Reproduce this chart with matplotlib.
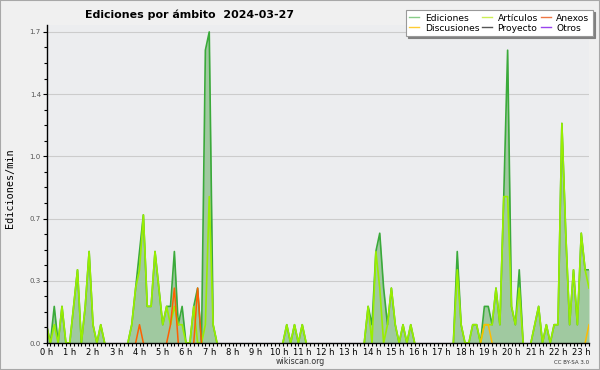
import numpy as np
import matplotlib
matplotlib.use("Agg")
import matplotlib.pyplot as plt
from matplotlib.lines import Line2D
from matplotlib.patches import Rectangle

# edits per minute, one value every 10 minutes (6 per hour), 00:00 -> 23:20
ediciones = [
    0.1, 0, 0.2, 0, 0.2, 0,        # 0 h
    0, 0.2, 0.4, 0, 0.2, 0.5,      # 1 h
    0.1, 0, 0.1, 0, 0, 0,          # 2 h
    0, 0, 0, 0, 0.1, 0.3,          # 3 h
    0.5, 0.7, 0.2, 0.2, 0.5, 0.3,  # 4 h
    0.1, 0.2, 0.2, 0.5, 0.1, 0.2,  # 5 h
    0, 0, 0.2, 0.3, 0, 1.6,        # 6 h
    1.7, 0.1, 0, 0, 0, 0,          # 7 h
    0, 0, 0, 0, 0, 0,              # 8 h
    0, 0, 0, 0, 0, 0,              # 9 h
    0, 0, 0.1, 0, 0.1, 0,          # 10 h
    0.1, 0, 0, 0, 0, 0,            # 11 h
    0, 0, 0, 0, 0, 0,              # 12 h
    0, 0, 0, 0, 0, 0.2,            # 13 h
    0.1, 0.5, 0.6, 0.3, 0.1, 0.3,  # 14 h
    0.1, 0, 0.1, 0, 0.1, 0,        # 15 h
    0, 0, 0, 0, 0, 0,              # 16 h
    0, 0, 0, 0, 0.5, 0.1,          # 17 h
    0, 0, 0.1, 0.1, 0, 0.2,        # 18 h
    0.2, 0.1, 0.3, 0.1, 0.8, 1.6,  # 19 h
    0.2, 0.1, 0.4, 0, 0, 0,        # 20 h
    0.1, 0.2, 0, 0.1, 0, 0.1,      # 21 h
    0.1, 1.2, 0.6, 0.1, 0.4, 0.1,  # 22 h
    0.6, 0.4, 0.4,                 # 23 h
]

articulos = [
    0.1, 0, 0.1, 0, 0.2, 0,
    0, 0.2, 0.4, 0, 0.2, 0.5,
    0.1, 0, 0.1, 0, 0, 0,
    0, 0, 0, 0, 0.1, 0.3,
    0.4, 0.7, 0.2, 0.2, 0.5, 0.3,
    0.1, 0.2, 0.1, 0.2, 0.1, 0.1,
    0, 0, 0.2, 0, 0, 0.1,
    0.8, 0.1, 0, 0, 0, 0,
    0, 0, 0, 0, 0, 0,
    0, 0, 0, 0, 0, 0,
    0, 0, 0.1, 0, 0.1, 0,
    0.1, 0, 0, 0, 0, 0,
    0, 0, 0, 0, 0, 0,
    0, 0, 0, 0, 0, 0.2,
    0, 0.5, 0.3, 0, 0.1, 0.3,
    0.1, 0, 0.1, 0, 0.1, 0,
    0, 0, 0, 0, 0, 0,
    0, 0, 0, 0, 0.4, 0.1,
    0, 0, 0.1, 0.1, 0, 0.1,
    0.1, 0.1, 0.3, 0.1, 0.8, 0.8,
    0.2, 0.1, 0.3, 0, 0, 0,
    0.1, 0.2, 0, 0.1, 0, 0.1,
    0.1, 1.2, 0.6, 0.1, 0.4, 0.1,
    0.6, 0.4, 0.3,
]

anexos = [
    0, 0, 0, 0, 0, 0,
    0, 0, 0, 0, 0, 0,
    0, 0, 0, 0, 0, 0,
    0, 0, 0, 0, 0, 0,
    0.1, 0, 0, 0, 0, 0,
    0, 0, 0.1, 0.3, 0, 0,
    0, 0, 0, 0.3, 0, 0,
    0, 0, 0, 0, 0, 0,
    0, 0, 0, 0, 0, 0,
    0, 0, 0, 0, 0, 0,
    0, 0, 0, 0, 0, 0,
    0, 0, 0, 0, 0, 0,
    0, 0, 0, 0, 0, 0,
    0, 0, 0, 0, 0, 0,
    0, 0, 0, 0, 0, 0,
    0, 0, 0, 0, 0, 0,
    0, 0, 0, 0, 0, 0,
    0, 0, 0, 0, 0, 0,
    0, 0, 0, 0, 0, 0,
    0, 0, 0, 0, 0, 0,
    0, 0, 0, 0, 0, 0,
    0, 0, 0, 0, 0, 0,
    0, 0, 0, 0, 0, 0,
    0, 0, 0,
]

discusiones = [
    0, 0, 0, 0, 0, 0,
    0, 0, 0, 0, 0, 0,
    0, 0, 0, 0, 0, 0,
    0, 0, 0, 0, 0, 0,
    0, 0, 0, 0, 0, 0,
    0, 0, 0, 0, 0, 0,
    0, 0, 0, 0, 0, 0,
    0, 0, 0, 0, 0, 0,
    0, 0, 0, 0, 0, 0,
    0, 0, 0, 0, 0, 0,
    0, 0, 0, 0, 0, 0,
    0, 0, 0, 0, 0, 0,
    0, 0, 0, 0, 0, 0,
    0, 0, 0, 0, 0, 0,
    0, 0, 0, 0, 0, 0,
    0, 0, 0, 0, 0, 0,
    0, 0, 0, 0, 0, 0,
    0, 0, 0, 0, 0, 0,
    0, 0, 0, 0, 0, 0.1,
    0.1, 0, 0, 0, 0, 0,
    0, 0, 0, 0, 0, 0,
    0, 0, 0, 0, 0, 0,
    0, 0, 0, 0, 0, 0,
    0, 0, 0.1,
]

hour_labels = [f"{h} h" for h in range(24)]
y_max = 1.7

series_names = ["Ediciones", "Discusiones", "Artículos", "Proyecto", "Anexos", "Otros"]
legend_colors = ["#88cc88", "#ffcc33", "#ccee55", "#555555", "#ee7744", "#9944ee"]

t = np.arange(len(ediciones)) / 6.0


def hide_flat_zero(vals):
    # don't draw runs of zeros along the baseline
    y = np.array(vals, dtype=float)
    prev = np.r_[0, y[:-1]]
    nxt = np.r_[y[1:], 0]
    y[(y == 0) & (prev == 0) & (nxt == 0)] = np.nan
    return y


fig = plt.figure(figsize=(6, 3.7), dpi=100, facecolor="#f0f0f0")
fig.patches.append(Rectangle((0, 0), 1, 1, transform=fig.transFigure,
                             fill=False, edgecolor="#a8a8a8", lw=1.5))
ax = fig.add_axes([46.5 / 600, 27 / 370, (589 - 46.5) / 600, (343 - 24.6) / 370])
ax.set_facecolor("#ecedef")

ax.fill_between(t, 0, ediciones, color="#a0c9a0", lw=0, zorder=1.5)
ax.plot(t, hide_flat_zero(ediciones), color="#3aaa3a", lw=1.2, zorder=2)
ax.plot(t, hide_flat_zero(articulos), color="#99ee00", lw=1.2, zorder=2.1)
ax.plot(t, hide_flat_zero(anexos), color="#ff6000", lw=1.1, zorder=2.2)
ax.plot(t, hide_flat_zero(discusiones), color="#ffbb00", lw=1.1, zorder=2.2)

ax.set_xlim(0, t[-1])
ax.set_ylim(0, y_max + 0.04)
ax.set_xticks(np.arange(24))
ax.set_xticklabels(hour_labels)
ax.set_xticks(np.arange(0, t[-1] + 0.01, 1 / 6), minor=True)
yt = np.linspace(0, y_max, 6)
ax.set_yticks(yt)
ax.set_yticklabels([f"{v:.1f}" for v in yt])
ax.set_yticks(np.linspace(0, y_max, 21), minor=True)

ax.yaxis.grid(True, which="major", color="#cccccc", lw=0.8)
ax.set_axisbelow(True)
for s in ["top", "right"]:
    ax.spines[s].set_visible(False)
for s in ["left", "bottom"]:
    ax.spines[s].set_linewidth(1.0)
    ax.spines[s].set_zorder(3)

ax.tick_params(axis="x", which="major", length=2.5, width=0.8, labelsize=6, pad=1)
ax.tick_params(axis="x", which="minor", length=2.5, width=0.8)
ax.tick_params(axis="y", which="major", length=3, width=0.8, labelsize=5,
               labelcolor="#555555", pad=1)
ax.tick_params(axis="y", which="minor", length=2, width=0.8)

fig.text(85 / 600, 1 - 18.5 / 370, "Ediciones por ámbito  2024-03-27",
         fontsize=7.9, fontweight="bold", va="baseline", ha="left")
fig.text(10 / 600, 1 - 188 / 370, "Ediciones/min", rotation=90,
         family="DejaVu Sans Mono", fontsize=7.3, ha="center", va="center")
fig.text(300 / 600, 1 - 362 / 370, "wikiscan.org", fontsize=5.7,
         ha="center", va="center", color="#333333")
fig.text(589 / 600, 1 - 362 / 370, "CC BY-SA 3.0", fontsize=4,
         ha="right", va="center", color="#333333")

handles = [Line2D([], [], color=c, lw=1) for c in legend_colors]
leg = fig.legend(handles, series_names, ncol=3, loc="upper right",
                 bbox_to_anchor=(593 / 600, 1 - 10 / 370), fontsize=6.6,
                 frameon=True, fancybox=False,
                 shadow={"color": "#808080", "alpha": 1, "ox": 1.5, "oy": -1.5},
                 handlelength=1.1, handletextpad=0.6, columnspacing=0.3,
                 labelspacing=0.1, borderpad=0.4, borderaxespad=0)
leg.get_frame().set_facecolor("white")
leg.get_frame().set_edgecolor("#999999")
leg.get_frame().set_linewidth(0.8)

fig.savefig("out.png", dpi=100, facecolor=fig.get_facecolor())
